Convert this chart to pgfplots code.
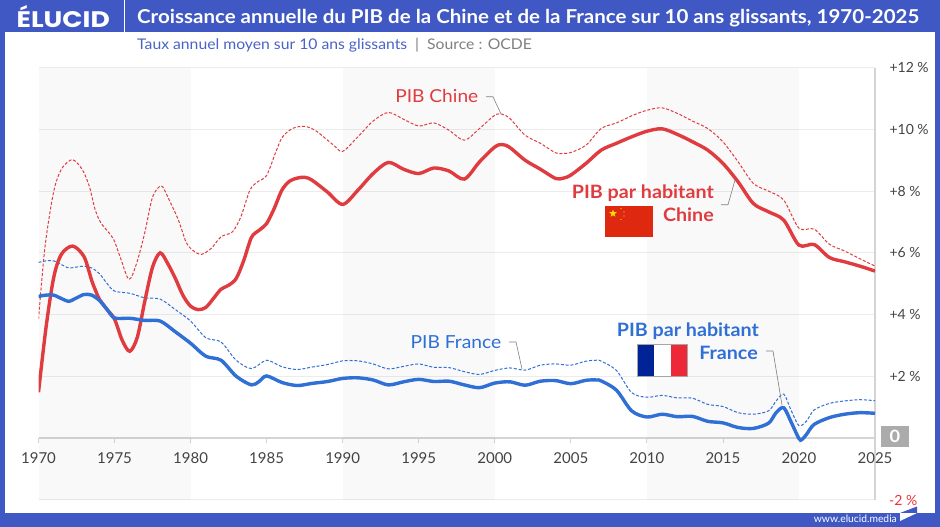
\documentclass[border=0pt]{standalone}
\usepackage{fontspec}
\usepackage{pgfplots}
\usepackage{pgfplotstable}
\pgfplotsset{compat=1.18}
\usetikzlibrary{shapes.geometric}
\setmainfont[FakeStretch=1.07]{Lato}
\newfontfamily\tickf{Lato}
\newfontfamily\logof[FakeStretch=1.18]{Poppins}
\definecolor{elublue}{HTML}{3F58C4}
\definecolor{subblue}{HTML}{4A63C6}
\definecolor{chred}{HTML}{E03C40}
\definecolor{frblue}{HTML}{2F6FD6}
\definecolor{gridc}{HTML}{ECECEC}
\definecolor{axisc}{HTML}{D4D4D4}
\definecolor{labc}{HTML}{444444}
\definecolor{flagred}{HTML}{DE2910}
\definecolor{flagyel}{HTML}{FFDE00}
\definecolor{frnavy}{HTML}{002395}
\definecolor{frred}{HTML}{ED2939}
\definecolor{zerogray}{HTML}{ABABAB}
\definecolor{minusred}{HTML}{E8343A}
\newcommand{\fs}[1]{\fontsize{#1}{#1}\selectfont}

% croissance du PIB, Chine
\pgfplotstableread{
x v
1970 3.85
1970.4 6.08
1970.83 7.54
1971.16 8.30
1971.6 8.78
1972.25 9.02
1972.9 8.68
1973.36 8.13
1973.7 7.44
1974.1 6.97
1974.9 6.47
1975.4 5.82
1975.95 5.14
1976.45 5.66
1977 6.68
1977.5 7.81
1978.07 8.17
1978.5 7.81
1979.2 7.06
1979.7 6.35
1980.15 6.08
1980.7 5.95
1981.35 6.14
1982 6.52
1982.75 6.68
1983.3 7.16
1983.9 8.03
1984.4 8.30
1985 8.51
1985.65 9.33
1986.05 9.76
1986.7 10.03
1987.5 10.10
1988.25 9.95
1989.4 9.49
1990 9.29
1991 9.76
1992 10.27
1993 10.55
1994 10.33
1995 10.11
1996 10.21
1997 9.97
1998 9.65
1999 10.03
2000 10.46
2000.5 10.49
2001 10.35
2002 9.81
2003 9.55
2004 9.24
2004.5 9.22
2005 9.25
2006 9.49
2007 10.03
2008 10.21
2009 10.44
2010 10.62
2011 10.70
2012 10.52
2013 10.27
2014 10.03
2015 9.60
2016 8.95
2017 8.25
2018 8.00
2019 7.71
2020 6.80
2021 6.77
2022 6.28
2023 6.06
2024 5.81
2025 5.57
}\pibchine

% PIB par habitant, Chine
\pgfplotstableread{
x v
1970 1.48
1970.5 3.60
1971 5.20
1971.5 5.95
1972.25 6.22
1973 5.87
1973.5 5.10
1973.8 4.72
1974 4.50
1974.5 4.17
1975 3.85
1975.5 3.17
1976 2.81
1976.5 3.27
1977 4.46
1977.5 5.54
1978 6.00
1978.5 5.65
1979 5.17
1979.5 4.62
1980 4.27
1980.5 4.16
1981 4.23
1981.5 4.52
1982 4.82
1982.5 4.95
1983 5.17
1983.5 5.76
1984 6.50
1984.5 6.73
1985 6.95
1985.5 7.44
1986 8.03
1986.5 8.32
1987 8.42
1987.5 8.45
1988 8.35
1989 7.97
1990 7.57
1991 8.03
1992 8.57
1993 8.93
1994 8.71
1995 8.57
1996 8.75
1997 8.65
1998 8.39
1999 8.95
2000 9.43
2000.5 9.51
2001 9.41
2002 9.00
2003 8.71
2004 8.41
2004.5 8.42
2005 8.52
2006 8.90
2007 9.33
2008 9.55
2009 9.76
2010 9.94
2011 10.02
2012 9.84
2013 9.60
2014 9.33
2015 8.90
2016 8.30
2017 7.60
2018 7.33
2019 7.06
2020 6.25
2021 6.27
2022 5.85
2023 5.71
2024 5.57
2025 5.41
}\habchine

% croissance du PIB, France
\pgfplotstableread{
x v
1970 5.69
1970.5 5.74
1971 5.74
1971.5 5.62
1972 5.51
1972.5 5.54
1973 5.57
1973.5 5.51
1974 5.33
1974.5 5.01
1975 4.76
1976 4.69
1977 4.54
1978 4.50
1979 4.16
1980 3.79
1981 3.25
1982 3.11
1983 2.52
1984 2.25
1985 2.52
1986 2.31
1987 2.22
1988 2.30
1989 2.38
1990 2.50
1991 2.50
1992 2.40
1993 2.24
1994 2.32
1995 2.40
1996 2.29
1997 2.28
1998 2.15
1999 2.06
2000 2.19
2001 2.27
2002 2.20
2003 2.36
2004 2.40
2005 2.36
2006 2.49
2006.7 2.52
2007 2.49
2008 2.19
2009 1.47
2010 1.32
2011 1.38
2012 1.30
2013 1.29
2014 1.09
2015 1.02
2016 0.82
2017 0.77
2018 0.88
2018.5 1.20
2019 1.42
2019.5 0.88
2020 0.40
2020.5 0.55
2021 0.91
2022 1.12
2023 1.20
2024 1.24
2025 1.21
}\pibfrance

% PIB par habitant, France
\pgfplotstableread{
x v
1970 4.59
1970.5 4.63
1971 4.63
1971.5 4.52
1972 4.43
1972.5 4.54
1973 4.65
1973.5 4.63
1974 4.46
1974.5 4.17
1975 3.89
1976 3.88
1977 3.81
1978 3.79
1979 3.44
1980 3.07
1981 2.65
1982 2.52
1983 2.00
1984 1.72
1984.5 1.83
1985 2.01
1986 1.80
1987 1.70
1988 1.77
1989 1.83
1990 1.93
1991 1.95
1992 1.88
1993 1.72
1994 1.82
1995 1.90
1996 1.83
1997 1.84
1998 1.72
1999 1.63
2000 1.78
2001 1.82
2002 1.71
2003 1.84
2004 1.86
2005 1.76
2006 1.87
2006.7 1.88
2007 1.85
2008 1.55
2009 0.88
2010 0.68
2011 0.77
2012 0.69
2013 0.70
2014 0.54
2015 0.49
2016 0.34
2017 0.31
2018 0.48
2018.5 0.82
2019 0.98
2019.5 0.50
2020 -0.02
2020.2 -0.05
2020.5 0.12
2021 0.44
2022 0.66
2023 0.77
2024 0.82
2025 0.80
}\habfrance

\begin{document}
\begin{tikzpicture}[x=1pt,y=-1pt]
\useasboundingbox (0,0) rectangle (940,527);
% cadre
\fill[elublue] (0,0) rectangle (940,527);
\fill[white] (4.5,32) rectangle (935,513);
\draw[white,line width=0.8pt] (124,0) -- (124,32);

\begin{axis}[
    at={(38.5pt,-499.7pt)},
    anchor=south west,
    scale only axis,
    width=836.5pt,
    height=432pt,
    xmin=1970, xmax=2025,
    ymin=-2, ymax=12,
    axis x line=middle,
    axis y line=right,
    axis line style={axisc,line width=1.2pt,-},
    hide obscured x ticks=false,
    hide obscured y ticks=false,
    tick align=outside,
    xtick={1970,1975,...,2025},
    xticklabels={1970,1975,1980,1985,1990,1995,2000,2005,2010,2015,2020,2025},
    xtick style={axisc,line width=0.8pt},
    major tick length=5pt,
    xticklabel style={font=\tickf\fs{15},text=labc,yshift=-6pt},
    ytick={-2,2,4,6,8,10,12},
    yticklabels={,+2 \%,+4 \%,+6 \%,+8 \%,+10 \%,+12 \%},
    ytick style={draw=none},
    yticklabel style={font=\tickf\fs{14},text=labc,anchor=west,xshift=6pt},
    ymajorgrids,
    grid style={gridc,line width=0.8pt},
]
% bandes grises une decennie sur deux
\addplot[fill=black,fill opacity=0.025,draw=none,forget plot] coordinates {(1970,-2)(1980,-2)(1980,12)(1970,12)} -- cycle;
\addplot[fill=black,fill opacity=0.025,draw=none,forget plot] coordinates {(1990,-2)(2000,-2)(2000,12)(1990,12)} -- cycle;
\addplot[fill=black,fill opacity=0.025,draw=none,forget plot] coordinates {(2010,-2)(2020,-2)(2020,12)(2010,12)} -- cycle;
% courbes
\addplot[chred,line width=1pt,dash pattern=on 3pt off 1.8pt,smooth,no marks] table[x=x,y=v] {\pibchine};
\addplot[frblue,line width=1pt,dash pattern=on 3pt off 1.8pt,smooth,no marks] table[x=x,y=v] {\pibfrance};
\addplot[chred,line width=3.4pt,smooth,no marks] table[x=x,y=v] {\habchine};
\addplot[frblue,line width=3.4pt,smooth,no marks] table[x=x,y=v] {\habfrance};
\end{axis}

% entete
\node[anchor=west,inner sep=0pt,text=white,font=\logof\fs{22.5}\bfseries] at (16.5,16.5) {ÉLUCID};
\node[anchor=base west,inner sep=0pt,text=white,font=\fs{19.15}\bfseries] at (137,24) {Croissance annuelle du PIB de la Chine et de la France sur 10 ans glissants, 1970-2025};
\node[anchor=base west,inner sep=0pt,font=\fs{14.7}] at (137,50) {\textcolor{subblue}{Taux annuel moyen sur 10 ans glissants}\textcolor{gray}{\ \ |\ \ Source : OCDE}};

% etiquettes
\node[anchor=east,inner sep=0pt,text=chred,font=\fs{17.9}] at (478.5,95.5) {PIB Chine};
\draw[gray,line width=0.6pt] (486,96.7) -- (493,96.7) -- (501,114);
\node[anchor=east,inner sep=0pt,text=chred,font=\fs{18.4}\bfseries] at (714,193) {PIB par habitant};
\node[anchor=east,inner sep=0pt,text=chred,font=\fs{18.4}\bfseries] at (714,215) {Chine};
\draw[gray,line width=0.6pt] (721,204.7) -- (728,204.7) -- (735,180);
\node[anchor=east,inner sep=0pt,text=frblue,font=\fs{18}] at (501.5,342) {PIB France};
\draw[gray,line width=0.6pt] (509,342) -- (516,342) -- (522,369);
\node[anchor=east,inner sep=0pt,text=frblue,font=\fs{18.4}\bfseries] at (759,331) {PIB par habitant};
\node[anchor=east,inner sep=0pt,text=frblue,font=\fs{18.4}\bfseries] at (758,352.5) {France};
\draw[gray,line width=0.6pt] (766,351) -- (773,351) -- (782,405);

% drapeau chinois
\fill[flagred] (605,206) rectangle (653,237);
\node[star,star points=5,star point ratio=2.4,fill=flagyel,inner sep=0pt,minimum size=8pt] at (613,213.5) {};
\foreach \p in {(621,208.5),(624,212),(624,216),(621,219.5)}{\fill[flagyel] \p circle (0.7);}
% drapeau francais
\fill[frnavy] (637.5,344) rectangle (654,376);
\fill[white] (654,344) rectangle (671,376);
\fill[frred] (671,344) rectangle (687,376);
\draw[gray!70,line width=0.5pt] (637.5,344) rectangle (687,376);

% zero et -2
\fill[zerogray] (881,426) rectangle (909,447);
\node[text=white,font=\fs{17}\bfseries,inner sep=0pt] at (895,436.5) {0};
\node[anchor=west,inner sep=0pt,text=minusred,font=\tickf\fs{14}] at (889,500) {-2 \%};

% pied
\node[anchor=east,inner sep=0pt,text=white,font=\tickf\fs{10.3}] at (897,518.5) {www.elucid.media};
\fill[elublue] (900,513) -- (917,506.5) -- (917,513) -- cycle;
\fill[white] (900,513) -- (917,513) -- (900,521) -- cycle;
\end{tikzpicture}
\end{document}
